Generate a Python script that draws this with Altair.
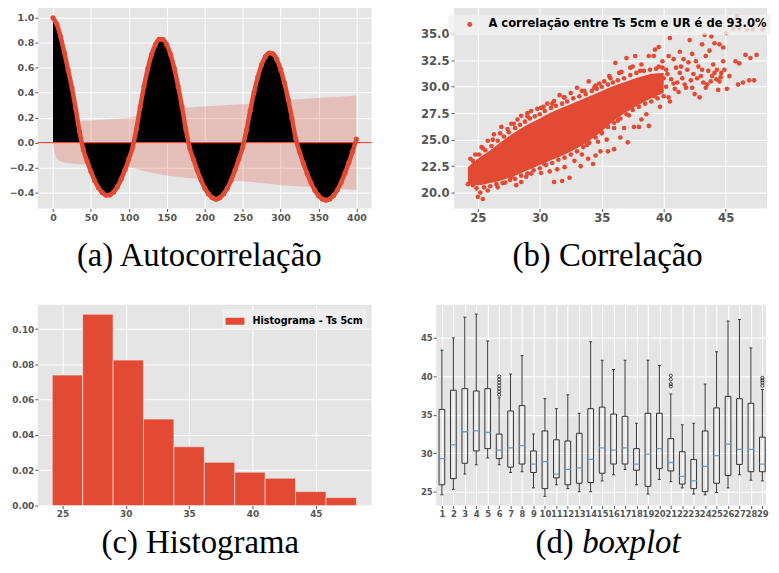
import altair as alt
import pandas as pd

RED = "#E24A33"
BG = "#E5E5E5"
TICK = "#555555"
FONT = "DejaVu Sans"
SERIF = "Liberation Serif"

# ---------------- (a) autocorrelation ----------------
acf_lags = list(range(0, 401, 5))
acf_vals = [
    1.0, 0.95, 0.85, 0.72, 0.58, 0.44, 0.27, 0.09,
    -0.056, -0.147, -0.231, -0.304, -0.361, -0.400, -0.420, -0.418, -0.395, -0.352, -0.290, -0.216, -0.130, -0.038,
    0.110, 0.288, 0.451, 0.593, 0.706, 0.785, 0.828, 0.826, 0.785, 0.706, 0.593, 0.450, 0.289, 0.110,
    -0.038, -0.131, -0.219, -0.297, -0.362, -0.410, -0.440, -0.452, -0.440, -0.410, -0.362, -0.297, -0.219, -0.131, -0.038,
    0.098, 0.256, 0.402, 0.526, 0.624, 0.689, 0.718, 0.711, 0.667, 0.588, 0.479, 0.346, 0.195, 0.032,
    -0.074, -0.164, -0.247, -0.320, -0.380, -0.424, -0.451, -0.460, -0.450, -0.422, -0.377, -0.316, -0.242, -0.159, -0.069, 0.030,
]
conf_lags = [0, 2, 5, 10, 20, 35, 50, 75, 100, 125, 150, 175, 200, 225, 250, 275, 300, 325, 350, 375, 400]
conf_vals = [0, 0.075, 0.125, 0.148, 0.163, 0.172, 0.178, 0.188, 0.199, 0.233, 0.263, 0.28, 0.29, 0.30,
             0.308, 0.323, 0.34, 0.348, 0.357, 0.366, 0.378]
a_xticks = [0, 50, 100, 150, 200, 250, 300, 350, 400]
a_yticks = [-0.4, -0.2, 0.0, 0.2, 0.4, 0.6, 0.8, 1.0]

# ---------------- (b) correlation scatter ----------------
core_x = [24.2, 25.0, 26.0, 27.0, 28.0, 29.0, 30.0, 31.0, 32.0, 33.0, 34.0, 35.0, 36.0, 37.0, 38.0, 39.0, 40.0]
core_lo = [20.8, 20.7, 20.9, 21.2, 21.6, 22.1, 22.6, 23.1, 23.6, 24.2, 24.9, 25.8, 26.8, 27.6, 28.3, 28.9, 29.4]
core_hi = [22.4, 23.2, 24.0, 24.9, 25.7, 26.4, 27.0, 27.6, 28.1, 28.6, 29.1, 29.6, 30.1, 30.5, 30.9, 31.2, 31.3]
scat_x = [
    # outer upper scatter
    24.4, 24.8, 25.3, 25.8, 26.3, 26.9, 27.4, 27.7, 28.2, 28.5, 29.0, 29.3, 29.8, 30.1, 30.6, 31.15, 31.6, 31.95,
    32.5, 33.0, 33.6, 33.95, 34.4, 34.8, 35.2, 35.6, 36.1, 36.4, 37.0, 37.3, 37.7, 38.2, 38.6, 38.8, 39.2, 39.6,
    39.9, 40.2, 40.5, 40.8, 41.3, 41.3, 41.8, 42.1, 42.5, 42.6, 42.9, 43.1, 43.2, 43.3, 43.4, 43.6, 43.85, 44.0,
    44.1, 44.25, 44.4, 44.5, 44.5, 44.65, 44.8, 44.8, 45.05, 45.1, 45.6, 45.8, 45.9, 46.0, 46.1, 46.1, 46.4, 46.6,
    46.7, 46.9, 47.0, 47.2, 47.3, 47.5, 48.0,
    # cloud beyond the core
    38.1, 38.5, 39.0, 39.4, 39.7, 39.2, 40.0, 40.4, 40.5, 40.8, 41.0, 41.5, 41.9, 42.2, 42.4, 42.8, 43.0, 43.5,
    43.9, 44.3, 41.2, 42.0, 40.2, 39.6, 38.8,
    40.3, 40.6, 41.1, 40.9, 41.4, 41.7, 42.3, 42.7, 43.1, 43.4, 43.8, 44.1, 44.6, 44.9, 45.3, 41.6, 42.3, 43.7,
    40.4, 39.3,
    # lower scatter
    24.2, 24.6, 25.0, 25.2, 25.4, 25.8, 26.3, 26.6, 27.0, 27.7, 28.1, 28.5, 28.9, 29.3, 30.1, 30.35, 31.15, 31.8,
    32.4, 33.3, 33.4, 33.8, 34.3, 34.5, 34.9, 35.0, 35.5, 36.0, 36.0, 36.5, 36.8, 37.1, 37.6, 38.0, 38.2, 38.6,
    38.8, 39.7, 37.2, 36.3, 35.4, 34.7, 33.9, 32.8, 32.0, 31.4, 30.8,
    # upper edge of the dense core
    24.6, 25.1, 25.6, 26.1, 26.6, 27.1, 27.5, 28.0, 28.4, 28.8, 29.2, 29.6, 30.0, 30.4, 30.9, 31.3, 31.8, 32.2,
    32.7, 33.2, 33.7, 34.2, 34.6, 35.0, 35.5, 35.9, 36.3, 36.8, 37.3, 37.8, 38.4, 38.9, 39.4, 39.9,
    25.4, 26.2, 26.8, 27.9, 29.0, 30.3, 31.0, 32.0, 33.4, 34.5, 35.7, 36.6, 37.5,
    # lower edge of the dense core
    24.9, 25.5, 26.0, 26.5, 27.2, 27.6, 28.0, 28.5, 29.0, 29.5, 30.0, 30.5, 31.0, 31.5, 32.0, 32.5, 33.0, 33.5,
    34.0, 34.5, 35.0, 35.5, 36.0, 36.5, 37.0, 37.5, 38.0, 38.5, 39.0, 39.5, 40.0,
]
scat_y = [
    23.2, 23.6, 24.3, 24.9, 25.5, 26.2, 26.0, 26.5, 26.9, 27.25, 27.5, 27.7, 27.9, 28.0, 28.4, 28.65, 29.2, 29.0,
    29.4, 29.9, 29.6, 30.5, 29.9, 30.3, 30.5, 31.0, 32.25, 31.3, 32.7, 31.8, 32.9, 32.1, 30.8, 32.9, 32.9, 33.75,
    32.4, 31.6, 34.6, 32.6, 33.3, 31.3, 29.9, 34.4, 29.3, 32.4, 29.0, 34.0, 30.4, 34.9, 32.9, 31.5, 34.75, 32.1,
    34.1, 30.7, 29.7, 30.5, 34.0, 31.3, 33.7, 32.4, 35.06, 29.8, 35.5, 32.4, 36.6, 30.2, 32.2, 35.5, 30.4, 33.0,
    35.4, 30.6, 32.7, 35.4, 30.6, 33.0, 35.4,
    31.5, 30.0, 31.0, 30.3, 29.6, 29.1, 30.8, 29.0, 28.6, 30.3, 31.8, 30.8, 31.6, 30.6, 31.2, 31.9, 31.0, 30.2,
    31.0, 31.6, 29.5, 32.3, 30.0, 31.9, 29.8,
    31.2, 30.7, 30.4, 29.8, 31.9, 30.2, 29.9, 30.8, 31.6, 29.9, 30.5, 31.3, 30.9, 31.6, 31.0, 32.6, 33.1, 33.4,
    32.9, 33.5,
    20.8, 20.7, 19.6, 20.0, 19.4, 20.2, 21.2, 20.5, 20.9, 21.5, 20.7, 21.0, 21.5, 21.8, 21.85, 22.7, 21.0, 21.1,
    21.4, 22.5, 23.6, 24.5, 22.7, 23.5, 23.9, 25.7, 23.9, 24.1, 26.1, 25.2, 26.1, 24.75, 26.2, 26.2, 26.9, 27.4,
    26.3, 28.1, 27.3, 26.8, 25.0, 24.8, 23.2, 23.0, 22.4, 22.2, 22.0,
    23.0, 23.6, 24.0, 24.4, 24.9, 25.3, 25.7, 26.1, 26.4, 26.7, 27.0, 27.2, 27.4, 27.7, 28.0, 28.2, 28.4, 28.6,
    28.9, 29.1, 29.3, 29.6, 29.8, 30.0, 30.2, 30.4, 30.6, 30.8, 31.1, 31.3, 31.5, 31.6, 31.7, 31.8,
    24.2, 25.0, 25.6, 26.5, 27.2, 28.1, 28.4, 29.0, 29.6, 30.1, 30.8, 31.4, 31.9,
    20.4, 20.5, 20.6, 20.8, 20.95, 21.2, 21.3, 21.6, 21.8, 22.1, 22.3, 22.6, 22.8, 23.1, 23.3, 23.6, 23.9, 24.3,
    24.7, 25.2, 25.6, 26.2, 26.6, 27.0, 27.4, 27.8, 28.1, 28.4, 28.6, 28.9, 29.1,
]
legend_b = "A correlação entre Ts 5cm e UR é de 93.0%"
b_xticks = [25, 30, 35, 40, 45]
b_yticks = [20.0, 22.5, 25.0, 27.5, 30.0, 32.5, 35.0]

# ---------------- (c) histogram ----------------
hist_edges = [24.2, 26.6, 29.0, 31.4, 33.8, 36.2, 38.6, 41.0, 43.4, 45.8, 48.2]
hist_density = [0.0739, 0.1084, 0.0824, 0.0490, 0.0333, 0.0245, 0.0189, 0.0155, 0.0079, 0.0045]
legend_c = "Histograma - Ts 5cm"
c_xticks = [25, 30, 35, 40, 45]
c_yticks = [0.0, 0.02, 0.04, 0.06, 0.08, 0.10]

# ---------------- (d) boxplot ----------------
box_pos = list(range(1, 31))
box_low = [24.6, 25.3, 27.3, 28.5, 29.4, 28.5, 27.5, 27.6, 25.5, 24.4, 25.9, 25.4, 25.0, 25.0, 26.4,
           27.2, 27.9, 25.9, 24.7, 26.6, 26.3, 25.5, 24.7, 24.6, 24.9, 25.5, 27.2, 26.5, 26.4, 25.3]
box_q1 = [25.9, 26.7, 28.7, 30.3, 30.6, 29.3, 28.2, 28.6, 27.5, 25.4, 26.8, 25.9, 26.1, 26.2, 27.4,
          28.6, 28.6, 27.8, 25.7, 28.0, 27.7, 26.0, 25.4, 25.0, 26.1, 27.1, 28.55, 27.6, 27.6, 26.1]
box_med = [29.3, 31.1, 32.8, 32.9, 32.7, 30.4, 30.7, 31.0, 28.6, 28.9, 27.3, 27.9, 28.1, 29.2, 30.7,
           30.4, 30.7, 28.6, 29.9, 30.6, 28.8, 27.0, 26.4, 28.3, 29.7, 31.2, 30.5, 30.5, 28.6, 26.6]
box_q3 = [35.7, 38.2, 38.4, 38.1, 38.4, 32.5, 35.5, 36.2, 30.3, 32.9, 31.75, 31.6, 32.6, 35.8, 36.0,
          35.1, 34.8, 30.6, 35.2, 35.2, 31.9, 30.2, 29.2, 32.9, 35.9, 37.4, 37.1, 36.5, 32.1, 31.6]
box_high = [43.4, 45.0, 47.7, 48.1, 44.6, 37.2, 40.3, 42.7, 32.5, 37.1, 35.8, 37.6, 35.2, 44.5, 42.1,
            40.9, 42.1, 33.9, 42.1, 41.4, 37.7, 33.7, 33.9, 39.0, 43.2, 47.2, 47.4, 43.7, 38.3, 38.9]
out_pos = [6, 6, 6, 6, 6, 6, 6, 21, 21, 21, 21, 29, 29, 29, 29]
out_val = [37.6, 38.0, 38.4, 38.8, 39.2, 39.6, 40.0, 38.7, 39.0, 39.6, 40.1, 38.8, 39.2, 39.5, 39.8]
d_xticks = list(range(1, 30))
d_yticks = [25, 30, 35, 40, 45]

captions = ["(a) Autocorrelação", "(b) Correlação", "(c) Histograma", "(d)", "boxplot"]

# ---------------- panel sizes ----------------
WA, HA = 336, 202
WB = 315
WC, HC = 336, 202
WD = 332
CAP_SIZE = 33


def caption(text, x, y, align="center", style="normal"):
    return alt.Chart(pd.DataFrame({"t": [text]})).mark_text(
        font=SERIF, fontSize=CAP_SIZE, align=align, baseline="alphabetic", color="black", fontStyle=style
    ).encode(x=alt.value(x), y=alt.value(y), text="t:N")


# ---- (a)
acf_df = pd.DataFrame({"lag": acf_lags, "acf": acf_vals, "zero": [0.0] * len(acf_lags)})
conf_df = pd.DataFrame({"lag": conf_lags, "hi": conf_vals, "lo": [-v for v in conf_vals]})

xa = alt.X("lag:Q", title=None, scale=alt.Scale(domain=[-20, 420], nice=False, zero=False),
           axis=alt.Axis(values=a_xticks, format="d", labelFontSize=9.5, labelFlush=False))


def ya(field):
    return alt.Y(field, title=None, scale=alt.Scale(domain=[-0.527, 1.08], nice=False, zero=False),
                 axis=alt.Axis(values=a_yticks, format=".1f", labelFontSize=9.5,
                               minExtent=30, maxExtent=30, labelFlush=False))


band_a = alt.Chart(conf_df).mark_area(color=RED, opacity=0.25, interpolate="monotone").encode(
    x=xa, y=ya("hi:Q"), y2="lo:Q")
black_a = alt.Chart(acf_df).mark_area(color="black", interpolate="monotone").encode(
    x=xa, y=ya("acf:Q"), y2="zero:Q")
zero_a = alt.Chart(pd.DataFrame({"z": [0.0]})).mark_rule(color=RED, strokeWidth=1.3).encode(y=ya("z:Q"))
line_a = alt.Chart(acf_df).mark_line(color=RED, strokeWidth=4.5, interpolate="monotone").encode(
    x=xa, y=ya("acf:Q"))
pts_a = alt.Chart(acf_df).mark_circle(color=RED, size=26, opacity=1).encode(x=xa, y=ya("acf:Q"))
panel_a = alt.layer(band_a, black_a, zero_a, line_a, pts_a, caption(captions[0], 162.5, 260)).properties(
    width=WA, height=HA)

# ---- (b)
core_df = pd.DataFrame({"x": core_x, "lo": core_lo, "hi": core_hi})
scat_df = pd.DataFrame({"x": scat_x, "y": scat_y, "s": [legend_b] * len(scat_x)})

xb = alt.X("x:Q", title=None, scale=alt.Scale(domain=[23.08, 48.34], nice=False, zero=False),
           axis=alt.Axis(values=b_xticks, format="d", labelFontSize=11.7, labelFlush=False))


def yb(field):
    return alt.Y(field, title=None, scale=alt.Scale(domain=[18.5, 37.45], nice=False, zero=False),
                 axis=alt.Axis(values=b_yticks, format=".1f", labelFontSize=11.7, labelPadding=2,
                               minExtent=36, maxExtent=36, labelFlush=False))


color_b = alt.Color("s:N", scale=alt.Scale(domain=[legend_b], range=[RED]),
                    legend=alt.Legend(title=None, orient="none", legendX=-6, legendY=7,
                                      fillColor="rgba(240,240,240,0.8)", cornerRadius=3, padding=4,
                                      labelFont=FONT, labelFontWeight="bold", labelFontSize=11.6,
                                      labelColor="black", labelLimit=500, symbolType="circle",
                                      symbolSize=25, symbolOffset=12, labelOffset=13, zindex=1,
                                      symbolStrokeWidth=0))
core_b = alt.Chart(core_df).mark_area(color=RED, interpolate="monotone", clip=True).encode(
    x=xb, y=yb("lo:Q"), y2="hi:Q")
pts_b = alt.Chart(scat_df).mark_circle(size=22, opacity=1, clip=True).encode(
    x=xb, y=yb("y:Q"), color=color_b)
panel_b = alt.layer(core_b, pts_b, caption(captions[1], 154.5, 260)).properties(width=WB, height=HA)

# ---- (c)
hist_df = pd.DataFrame({"x0": hist_edges[:-1], "x1": hist_edges[1:], "dens": hist_density,
                        "zero": [0.0] * len(hist_density), "s": [legend_c] * len(hist_density)})
color_c = alt.Color("s:N", scale=alt.Scale(domain=[legend_c], range=[RED]),
                    legend=alt.Legend(title=None, orient="none", legendX=186, legendY=4,
                                      fillColor="rgba(240,240,240,0.8)", cornerRadius=3, padding=3,
                                      labelFont=FONT, labelFontWeight="bold", labelFontSize=9.7,
                                      labelColor="black", labelLimit=500,
                                      symbolType="M-1,-0.37L1,-0.37L1,0.37L-1,0.37Z",
                                      symbolSize=361, labelOffset=8, zindex=1, symbolStrokeWidth=0))
bars_c = alt.Chart(hist_df).mark_rect(stroke="#EEEEEE", strokeWidth=0.6).encode(
    x=alt.X("x0:Q", title=None, scale=alt.Scale(domain=[23.06, 49.4], nice=False, zero=False),
            axis=alt.Axis(values=c_xticks, format="d", labelFontSize=9, labelFlush=False)),
    x2="x1:Q",
    y=alt.Y("dens:Q", title=None, scale=alt.Scale(domain=[0, 0.1137], nice=False, zero=False),
            axis=alt.Axis(values=c_yticks, format=".2f", labelFontSize=9, minExtent=30, maxExtent=30,
                          labelFlush=False)),
    y2="zero:Q",
    color=color_c)
panel_c = alt.layer(bars_c, caption(captions[2], 163.5, 250)).properties(width=WC, height=HC)

# ---- (d)
box_df = pd.DataFrame({"pos": box_pos, "low": box_low, "q1": box_q1, "med": box_med,
                       "q3": box_q3, "high": box_high})
out_df = pd.DataFrame({"pos": out_pos, "v": out_val})
dscale_x = alt.Scale(domain=[0.5, 29.32], nice=False, zero=False)
dscale_y = alt.Scale(domain=[23.2, 49.3], nice=False, zero=False)


def xd(field):
    return alt.X(field, title=None, scale=dscale_x,
                 axis=alt.Axis(values=d_xticks, format="d", labelFontSize=8.5, labelOverlap=False,
                               labelFlush=False))


def yd(field):
    return alt.Y(field, title=None, scale=dscale_y,
                 axis=alt.Axis(values=d_yticks, format="d", labelFontSize=8.5, minExtent=24, maxExtent=24,
                               labelFlush=False))


bd = alt.Chart(box_df).transform_calculate(
    xl="datum.pos - 0.25", xr="datum.pos + 0.25", cl="datum.pos - 0.125", cr="datum.pos + 0.125")
DARK = "#333333"
whisk_lo = bd.mark_rule(color=DARK, strokeWidth=1, clip=True).encode(x=xd("pos:Q"), y=yd("low:Q"), y2="q1:Q")
whisk_hi = bd.mark_rule(color=DARK, strokeWidth=1, clip=True).encode(x=xd("pos:Q"), y=yd("q3:Q"), y2="high:Q")
cap_lo = bd.mark_rule(color=DARK, strokeWidth=1, clip=True).encode(x=xd("cl:Q"), x2="cr:Q", y=yd("low:Q"))
cap_hi = bd.mark_rule(color=DARK, strokeWidth=1, clip=True).encode(x=xd("cl:Q"), x2="cr:Q", y=yd("high:Q"))
boxes = bd.mark_rect(fillOpacity=0, stroke=DARK, strokeWidth=1, clip=True).encode(
    x=xd("xl:Q"), x2="xr:Q", y=yd("q1:Q"), y2="q3:Q")
medians = bd.mark_rule(color="#5DA5DA", strokeWidth=1.3, clip=True).encode(
    x=xd("xl:Q"), x2="xr:Q", y=yd("med:Q"))
outs = alt.Chart(out_df).mark_point(shape="circle", filled=False, size=10, color="black",
                                    strokeWidth=0.7, opacity=1, clip=True).encode(x=xd("pos:Q"), y=yd("v:Q"))
panel_d = alt.layer(whisk_lo, whisk_hi, cap_lo, cap_hi, boxes, medians, outs,
                    caption(captions[3], 100, 250, align="left"),
                    caption(captions[4], 147, 250, align="left", style="italic")).properties(
    width=WD, height=HC)

row1 = alt.hconcat(panel_a, panel_b, spacing=46).resolve_scale(color="independent").resolve_legend(
    color="independent")
row2 = alt.hconcat(panel_c, panel_d, spacing=41).resolve_scale(color="independent").resolve_legend(
    color="independent")

chart = alt.vconcat(row1, row2, spacing=32).resolve_scale(color="independent").resolve_legend(
    color="independent").properties(
    padding={"left": 0, "top": -2, "right": 0, "bottom": -2}
).configure_view(fill=BG, strokeWidth=0).configure_axis(
    labelFont=FONT, labelFontWeight="bold", labelColor=TICK, tickColor=TICK, tickSize=3,
    labelPadding=1, domain=False, gridColor="white", gridWidth=1,
)

chart.save("out.html", embed_options={"renderer": "svg", "actions": False})
